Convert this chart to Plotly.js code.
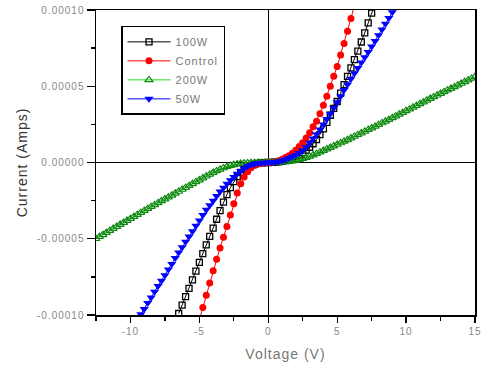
<!DOCTYPE html>
<html>
<head>
<meta charset="utf-8">
<script src="https://cdn.plot.ly/plotly-3.0.1.min.js"></script>
<style>
html,body{margin:0;padding:0;background:#fff;}
#chart{width:483px;height:368px;}
svg text{letter-spacing:1px;}
</style>
</head>
<body>
<div id="chart"></div>
<script>
// Series names (legend order)
const seriesNames = ["100W", "Control", "200W", "50W"];

// Current values are in units of 1e-5 A
const v100W = [-6.5,-6.25,-6,-5.75,-5.5,-5.25,-5,-4.75,-4.5,-4.25,-4,-3.75,-3.5,-3.25,-3,-2.75,-2.5,-2.25,-2,-1.75,-1.5,-1.25,-1,-0.75,-0.5,-0.25,0,0.25,0.5,0.75,1,1.25,1.5,1.75,2,2.25,2.5,2.75,3,3.25,3.5,3.75,4,4.25,4.5,4.75,5,5.25,5.5,5.75,6,6.25,6.5,6.75,7,7.25,7.5,7.75];
const i100W = [-9.9,-9.35,-8.8,-8.25,-7.7,-7.12,-6.55,-5.97,-5.4,-4.85,-4.3,-3.72,-3.15,-2.6,-2.1,-1.65,-1.25,-0.92,-0.65,-0.45,-0.3,-0.19,-0.12,-0.06,-0.03,-0.01,0,0.01,0.02,0.04,0.08,0.13,0.2,0.29,0.4,0.52,0.65,0.81,1.0,1.23,1.5,1.83,2.2,2.63,3.1,3.55,4.0,4.55,5.1,5.65,6.2,6.75,7.3,7.9,8.5,9.15,9.8,10.4];

const vControl = [-5,-4.75,-4.5,-4.25,-4,-3.75,-3.5,-3.25,-3,-2.75,-2.5,-2.25,-2,-1.75,-1.5,-1.25,-1,-0.75,-0.5,-0.25,0,0.25,0.5,0.75,1,1.25,1.5,1.75,2,2.25,2.5,2.75,3,3.25,3.5,3.75,4,4.25,4.5,4.75,5,5.25,5.5,5.75,6,6.25];
const iControl = [-10.3,-9.5,-8.7,-7.9,-7.1,-6.35,-5.6,-4.9,-4.2,-3.45,-2.7,-2.0,-1.4,-0.95,-0.6,-0.35,-0.2,-0.1,-0.05,-0.02,0,0.02,0.05,0.12,0.2,0.32,0.45,0.6,0.8,1.05,1.3,1.6,1.95,2.35,2.7,3.2,3.75,4.35,5.0,5.65,6.3,7.05,7.8,8.6,9.45,10.3];

const v200W = [-12.5,-12.25,-12,-11.75,-11.5,-11.25,-11,-10.75,-10.5,-10.25,-10,-9.75,-9.5,-9.25,-9,-8.75,-8.5,-8.25,-8,-7.75,-7.5,-7.25,-7,-6.75,-6.5,-6.25,-6,-5.75,-5.5,-5.25,-5,-4.75,-4.5,-4.25,-4,-3.75,-3.5,-3.25,-3,-2.75,-2.5,-2.25,-2,-1.75,-1.5,-1.25,-1,-0.75,-0.5,-0.25,0,0.25,0.5,0.75,1,1.25,1.5,1.75,2,2.25,2.5,2.75,3,3.25,3.5,3.75,4,4.25,4.5,4.75,5,5.25,5.5,5.75,6,6.25,6.5,6.75,7,7.25,7.5,7.75,8,8.25,8.5,8.75,9,9.25,9.5,9.75,10,10.25,10.5,10.75,11,11.25,11.5,11.75,12,12.25,12.5,12.75,13,13.25,13.5,13.75,14,14.25,14.5,14.75,15];
const i200W = [-5.0,-4.87,-4.74,-4.6,-4.47,-4.33,-4.2,-4.07,-3.94,-3.81,-3.68,-3.55,-3.42,-3.29,-3.16,-3.03,-2.9,-2.78,-2.65,-2.52,-2.4,-2.27,-2.15,-2.02,-1.9,-1.77,-1.65,-1.52,-1.4,-1.27,-1.15,-1.02,-0.9,-0.78,-0.66,-0.55,-0.45,-0.36,-0.28,-0.21,-0.15,-0.1,-0.07,-0.05,-0.03,-0.02,-0.01,-0.005,0,0,0,0,0,0.01,0.02,0.04,0.06,0.09,0.13,0.19,0.25,0.32,0.4,0.49,0.58,0.68,0.78,0.88,0.98,1.08,1.18,1.28,1.38,1.49,1.6,1.71,1.82,1.93,2.04,2.15,2.26,2.37,2.48,2.59,2.7,2.81,2.93,3.04,3.16,3.27,3.39,3.5,3.62,3.73,3.85,3.96,4.08,4.19,4.3,4.41,4.52,4.63,4.74,4.85,4.96,5.07,5.18,5.29,5.4,5.51,5.62];

const v50W = [-9.25,-9,-8.75,-8.5,-8.25,-8,-7.75,-7.5,-7.25,-7,-6.75,-6.5,-6.25,-6,-5.75,-5.5,-5.25,-5,-4.75,-4.5,-4.25,-4,-3.75,-3.5,-3.25,-3,-2.75,-2.5,-2.25,-2,-1.75,-1.5,-1.25,-1,-0.75,-0.5,-0.25,0,0.25,0.5,0.75,1,1.25,1.5,1.75,2,2.25,2.5,2.75,3,3.25,3.5,3.75,4,4.25,4.5,4.75,5,5.25,5.5,5.75,6,6.25,6.5,6.75,7,7.25,7.5,7.75,8,8.25,8.5,8.75,9,9.25];
const i50W = [-9.95,-9.6,-9.22,-8.85,-8.47,-8.1,-7.75,-7.4,-7.02,-6.65,-6.27,-5.9,-5.55,-5.2,-4.85,-4.5,-4.15,-3.8,-3.45,-3.1,-2.8,-2.5,-2.2,-1.9,-1.65,-1.4,-1.17,-0.95,-0.74,-0.55,-0.39,-0.25,-0.16,-0.1,-0.05,-0.02,-0.01,0,0.01,0.02,0.06,0.12,0.2,0.3,0.4,0.5,0.63,0.78,1.02,1.3,1.57,1.85,2.17,2.5,2.85,3.2,3.57,3.95,4.35,4.75,5.12,5.5,5.85,6.2,6.55,6.9,7.25,7.6,7.97,8.35,8.72,9.1,9.47,9.85,10.2];

// Tick labels
const xTickVals = [-10, -5, 0, 5, 10, 15];
const xTickText = ["-10", "-5", "0", "5", "10", "15"];
const yTickVals = [-0.0001, -0.00005, 0, 0.00005, 0.0001];
const yTickText = ["-0.00010", "-0.00005", "0.00000", "0.00005", "0.00010"];

const toAmps = arr => arr.map(v => v * 1e-5);
const FONT = "Liberation Sans, Arial, sans-serif";

const traces = [
  {x: v100W, y: toAmps(i100W), name: seriesNames[0], mode: "lines+markers",
   line: {color: "#000000", width: 1},
   marker: {symbol: "square-open", size: 6, color: "#000000", line: {width: 1.3}}},
  {x: vControl, y: toAmps(iControl), name: seriesNames[1], mode: "lines+markers",
   line: {color: "#ff0000", width: 1},
   marker: {symbol: "circle", size: 7, color: "#ff0000"}},
  {x: v200W, y: toAmps(i200W), name: seriesNames[2], mode: "lines+markers",
   line: {color: "#22dd22", width: 1},
   marker: {symbol: "triangle-up-open", size: 7, color: "#118811", line: {width: 1.2}}},
  {x: v50W, y: toAmps(i50W), name: seriesNames[3], mode: "lines+markers",
   line: {color: "#0000ff", width: 1},
   marker: {symbol: "triangle-down", size: 8, color: "#0000ff"}}
];

const layout = {
  width: 483, height: 368,
  margin: {l: 96, r: 8, t: 10, b: 53},
  paper_bgcolor: "#ffffff", plot_bgcolor: "#ffffff",
  font: {family: FONT, size: 10, color: "#777777"},
  showlegend: true,
  legend: {
    x: 0.066, y: 0.948, xanchor: "left", yanchor: "top",
    bordercolor: "#000000", borderwidth: 1.5, bgcolor: "#ffffff",
    font: {family: FONT, size: 11, color: "#777777"},
    tracegroupgap: 0, itemwidth: 43
  },
  xaxis: {
    range: [-12.5, 15], tickmode: "array", tickvals: xTickVals, ticktext: xTickText,
    ticks: "outside", ticklen: 6, tickwidth: 1.3, tickcolor: "#000000",
    showline: true, linecolor: "#000000", linewidth: 1.5, mirror: true,
    showgrid: false, zeroline: true, zerolinecolor: "#000000", zerolinewidth: 1.3,
    tickfont: {family: FONT, size: 10, color: "#888888"},
    minor: {tickvals: [-12.5, -7.5, -2.5, 2.5, 7.5, 12.5], ticks: "outside", ticklen: 4, tickcolor: "#000000", tickwidth: 1.3, showgrid: false},
    title: {text: "Voltage (V)", font: {family: FONT, size: 14, color: "#777777"}, standoff: 13}
  },
  yaxis: {
    range: [-0.0001, 0.0001], tickmode: "array", tickvals: yTickVals, ticktext: yTickText,
    ticks: "outside", ticklen: 8, tickwidth: 1.3, tickcolor: "#000000",
    showline: true, linecolor: "#000000", linewidth: 1.5, mirror: true,
    showgrid: false, zeroline: true, zerolinecolor: "#000000", zerolinewidth: 1.3,
    tickfont: {family: FONT, size: 10, color: "#888888"},
    minor: {tickvals: [-0.000075, -0.000025, 0.000025, 0.000075], ticks: "outside", ticklen: 4, tickcolor: "#000000", tickwidth: 1.3, showgrid: false},
    title: {text: "Current (Amps)", font: {family: FONT, size: 14, color: "#333333"}, standoff: 6}
  }
};

Plotly.newPlot("chart", traces, layout, {displayModeBar: false, staticPlot: true});
</script>
</body>
</html>
